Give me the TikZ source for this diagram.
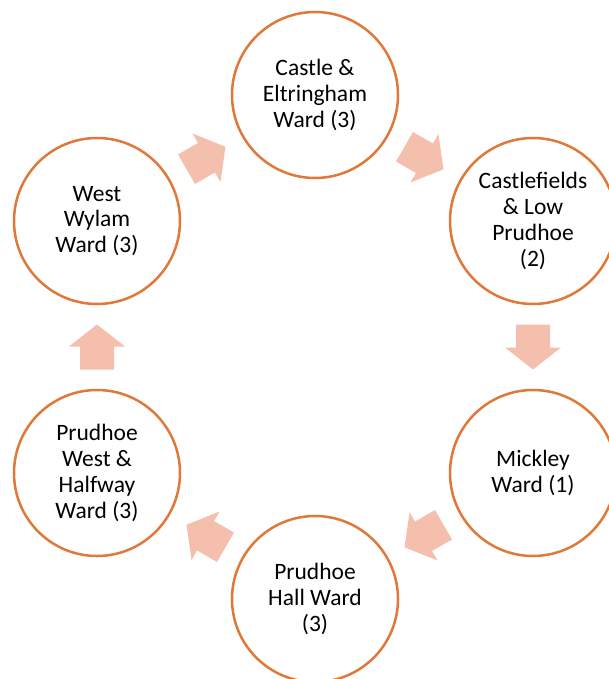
\documentclass[tikz,border=0pt]{standalone}
\usepackage{fontspec}
\setmainfont{Carlito}
\usetikzlibrary{calc}
\definecolor{ringorange}{HTML}{E0783A}
\definecolor{arrowpink}{HTML}{F4BFAD}
\begin{document}
\begin{tikzpicture}[x=1pt,y=-1pt,
  ward/.style={circle, draw=ringorange, line width=2.5pt, fill=white,
    minimum size=166pt, inner sep=0pt, align=center,
    font=\fontsize{23.5}{25.7}\selectfont},
  cyclearrow/.pic={\fill[arrowpink] (-22.5,-17) -- (0.5,-17) -- (0.5,-28) -- (22.5,0)
     -- (0.5,28) -- (0.5,17) -- (-22.5,17) -- cycle;}]
\useasboundingbox (0,0) rectangle (609,679);
\clip (0,0) rectangle (609,679);
\node[ward] (castle) at (315,95) {Castle \&\\Eltringham\\Ward (3)};
\node[ward] (castlefields) at (533,221) {Castlefields\\\& Low\\Prudhoe\\(2)};
\node[ward] (mickley) at (533,473) {Mickley\\Ward (1)};
\node[ward] (hall) at (315,599) {Prudhoe\\Hall Ward\\(3)};
\node[ward] (pwest) at (97,473) {Prudhoe\\West \&\\Halfway\\Ward (3)};
\node[ward] (wylam) at (97,221) {West\\Wylam\\Ward (3)};
\pic[rotate=30] at ($(wylam)!0.5!(castle)$) {cyclearrow};
\pic[rotate=-30] at ($(castle)!0.5!(castlefields)$) {cyclearrow};
\pic[rotate=-90] at ($(castlefields)!0.5!(mickley)$) {cyclearrow};
\pic[rotate=-150] at ($(mickley)!0.5!(hall)$) {cyclearrow};
\pic[rotate=150] at ($(hall)!0.5!(pwest)$) {cyclearrow};
\pic[rotate=90] at ($(pwest)!0.5!(wylam)$) {cyclearrow};
\end{tikzpicture}
\end{document}
